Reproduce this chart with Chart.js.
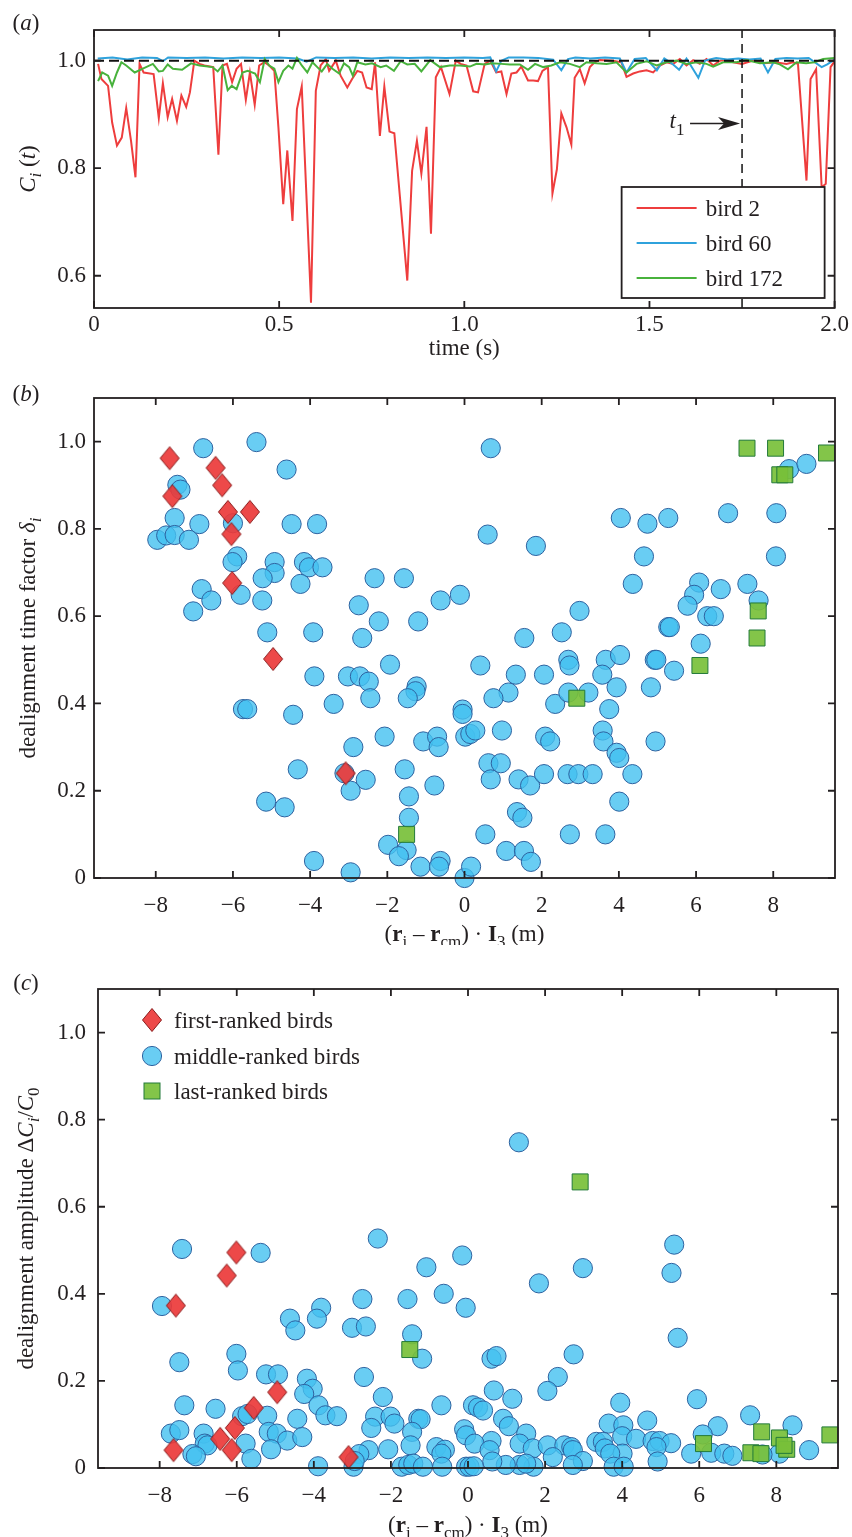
<!DOCTYPE html>
<html>
<head>
<meta charset="utf-8">
<script src="https://cdn.jsdelivr.net/npm/chart.js@4.4.1/dist/chart.umd.min.js"></script>
<style>
	html, body { margin: 0; padding: 0; background: #fff; }
	body { width: 852px; height: 1537px; position: relative; overflow: hidden; }
	canvas { position: absolute; left: 0; }
</style>
</head>
<body>
<canvas id="panel-a" width="852" height="365" style="top:0"></canvas>
<canvas id="panel-b" width="852" height="580" style="top:365px"></canvas>
<canvas id="panel-c" width="852" height="592" style="top:945px"></canvas>
<script>
// (a) C_i(t) time series
const timeTicks = [0, 0.5, 1, 1.5, 2];
const cTicks = [0.6, 0.8, 1.0];

const bird2Time = [
	0.011, 0.020, 0.038, 0.049, 0.062, 0.075, 0.087, 0.100, 0.112, 0.123,
	0.134, 0.161, 0.175, 0.186, 0.199, 0.211, 0.224, 0.236, 0.249, 0.259,
	0.271, 0.285, 0.298, 0.322, 0.336, 0.347, 0.359, 0.373, 0.385, 0.397,
	0.410, 0.421, 0.434, 0.446, 0.460, 0.473, 0.487, 0.498, 0.511, 0.522,
	0.536, 0.548, 0.561, 0.586, 0.599, 0.612, 0.626, 0.635, 0.653, 0.666,
	0.684, 0.697, 0.711, 0.724, 0.736, 0.750, 0.759, 0.772, 0.784, 0.798,
	0.811, 0.846, 0.859, 0.872, 0.884, 0.898, 0.910, 0.923, 0.937, 0.960,
	0.977, 0.990, 1.006, 1.024, 1.037, 1.055, 1.070, 1.086, 1.100, 1.114,
	1.127, 1.141, 1.154, 1.172, 1.186, 1.199, 1.211, 1.226, 1.238, 1.250,
	1.262, 1.276, 1.289, 1.298, 1.312, 1.325, 1.339, 1.352, 1.366, 1.402,
	1.424, 1.438, 1.456, 1.474, 1.492, 1.510, 1.528, 1.546, 1.564, 1.582,
	1.600, 1.618, 1.636, 1.654, 1.672, 1.690, 1.708, 1.726, 1.750, 1.780,
	1.810, 1.840, 1.870, 1.887, 1.901, 1.924, 1.935, 1.950, 1.965, 1.976,
	1.989, 2.000,
];
const bird2C = [
	0.994, 0.966, 0.953, 0.885, 0.842, 0.857, 0.912, 0.851, 0.783, 0.994,
	0.978, 0.975, 0.893, 0.958, 0.895, 0.929, 0.888, 0.935, 0.914, 0.941,
	1.000, 0.994, 0.991, 0.988, 0.825, 0.991, 0.994, 0.960, 0.985, 0.994,
	0.927, 0.978, 0.918, 0.991, 0.997, 0.991, 0.981, 0.876, 0.733, 0.833,
	0.702, 0.910, 0.952, 0.550, 0.944, 0.991, 1.003, 0.981, 1.000, 0.972,
	0.950, 0.966, 0.981, 0.978, 0.950, 0.947, 0.997, 0.860, 0.952, 0.868,
	0.865, 0.591, 0.795, 0.851, 0.790, 0.877, 0.678, 0.969, 0.988, 0.938,
	1.000, 0.994, 0.991, 0.943, 0.941, 0.994, 1.000, 0.978, 0.980, 0.938,
	0.976, 0.978, 0.989, 0.963, 0.963, 0.962, 0.981, 0.988, 0.753, 0.798,
	0.902, 0.876, 0.844, 0.968, 0.984, 0.958, 0.988, 0.997, 1.001, 1.000,
	0.997, 0.970, 0.976, 0.980, 0.982, 0.978, 0.991, 0.997, 0.994, 1.003,
	0.991, 1.001, 0.994, 1.003, 0.991, 1.000, 1.001, 0.997, 0.994, 1.000,
	0.995, 0.997, 0.994, 0.997, 0.994, 0.777, 0.966, 0.984, 0.764, 0.771,
	0.988, 0.999,
];

const bird60Time = [
	0.01, 0.05, 0.09, 0.13, 0.17, 0.186, 0.2, 0.25, 0.3, 0.35,
	0.4, 0.45, 0.5, 0.55, 0.574, 0.6, 0.65, 0.7, 0.75, 0.8,
	0.85, 0.9, 0.95, 1.0, 1.05, 1.07, 1.086, 1.1, 1.12, 1.16,
	1.2, 1.24, 1.262, 1.28, 1.3, 1.34, 1.38, 1.42, 1.438, 1.46,
	1.49, 1.52, 1.54, 1.56, 1.58, 1.6, 1.632, 1.65, 1.68, 1.71,
	1.74, 1.77, 1.8, 1.82, 1.84, 1.87, 1.9, 1.93, 1.965, 1.98,
	2.0,
];
const bird60C = [
	1.004, 1.006, 1.002, 1.006, 1.005, 0.999, 1.006, 1.005, 1.006, 1.004,
	1.006, 1.005, 1.006, 1.004, 0.998, 1.006, 1.005, 1.006, 1.004, 1.006,
	1.005, 1.006, 1.005, 1.006, 1.005, 1.006, 0.980, 1.000, 1.006, 1.006,
	1.005, 1.002, 0.982, 1.003, 1.006, 1.004, 1.006, 1.004, 0.978, 1.003,
	1.005, 0.982, 1.004, 0.995, 0.983, 1.004, 0.968, 1.000, 1.005, 1.002,
	1.004, 1.002, 1.004, 0.978, 1.003, 1.005, 1.004, 1.005, 0.988, 0.993,
	1.002,
];

const bird172Time = [
	0.011, 0.022, 0.038, 0.049, 0.062, 0.074, 0.087, 0.110, 0.132, 0.159,
	0.175, 0.186, 0.199, 0.213, 0.238, 0.262, 0.285, 0.320, 0.334, 0.347,
	0.361, 0.372, 0.385, 0.401, 0.415, 0.435, 0.448, 0.461, 0.473, 0.487,
	0.498, 0.511, 0.525, 0.536, 0.548, 0.561, 0.576, 0.590, 0.603, 0.615,
	0.630, 0.644, 0.662, 0.675, 0.689, 0.699, 0.711, 0.733, 0.751, 0.774,
	0.789, 0.810, 0.828, 0.846, 0.866, 0.884, 0.908, 0.934, 0.961, 0.988,
	1.015, 1.033, 1.056, 1.074, 1.100, 1.123, 1.150, 1.172, 1.191, 1.213,
	1.235, 1.258, 1.285, 1.312, 1.330, 1.357, 1.384, 1.411, 1.438, 1.465,
	1.492, 1.519, 1.546, 1.573, 1.600, 1.627, 1.654, 1.672, 1.699, 1.735,
	1.762, 1.798, 1.834, 1.852, 1.874, 1.897, 1.923, 1.946, 1.969, 2.000,
];
const bird172C = [
	0.962, 0.978, 0.972, 0.953, 0.978, 0.997, 0.991, 0.978, 0.985, 0.994,
	0.980, 0.981, 0.993, 0.985, 0.983, 0.995, 0.991, 0.988, 0.980, 0.991,
	0.945, 0.953, 0.947, 0.978, 0.981, 0.976, 0.960, 1.003, 0.991, 0.985,
	0.960, 0.981, 0.991, 0.985, 1.005, 0.991, 0.978, 0.997, 0.988, 0.980,
	0.994, 0.985, 0.976, 0.995, 0.988, 0.972, 0.997, 0.993, 0.995, 0.988,
	0.991, 0.981, 0.999, 0.993, 0.994, 0.980, 1.001, 0.988, 0.991, 0.991,
	0.989, 0.994, 0.993, 0.995, 0.994, 0.993, 0.993, 0.983, 0.994, 0.988,
	0.991, 0.997, 0.994, 0.988, 0.997, 0.995, 0.994, 0.997, 0.978, 0.994,
	0.999, 0.991, 0.997, 1.000, 0.994, 0.997, 0.994, 0.989, 0.997, 0.997,
	1.001, 0.995, 0.997, 0.993, 0.984, 0.997, 0.995, 0.997, 1.003, 1.005,
];

const refLineTime = [0, 2];
const refLineC = [1.0, 1.0];
const t1Time = [1.75, 1.75];
const t1LineC = [0.54, 1.06];
const t1ArrowC = 0.883;

// (b) and (c) shared axes
const posTicks = [-8, -6, -4, -2, 0, 2, 4, 6, 8];
const factorTicks = [0, 0.2, 0.4, 0.6, 0.8, 1.0];

// (b) dealignment time factor
const firstXb = [-7.64, -7.57, -6.45, -6.28, -6.13, -5.56, -6.04, -6.02, -4.96, -3.08];
const firstYb = [0.962, 0.875, 0.940, 0.900, 0.839, 0.839, 0.788, 0.676, 0.502, 0.240];
const lastXb = [-1.50, 2.91, 6.10, 7.58, 7.61, 7.32, 8.06, 9.38, 8.17, 8.30];
const lastYb = [0.100, 0.412, 0.487, 0.550, 0.612, 0.985, 0.985, 0.974, 0.924, 0.924];
const middleXb = [
	-6.77, -5.39, -4.61, -7.44, -7.36, -7.51, -7.96, -7.73, -7.51, -7.14,
	-6.87, -6.00, -4.48, -3.82, -5.89, -6.01, -4.92, -4.92, -5.23, -4.16,
	-4.03, -3.68, -4.25, -2.33, -1.57, -2.74, -2.22, -1.20, -2.65, -0.62,
	-0.12, -6.81, -6.56, -5.80, -5.24, -7.03, -5.11, -3.92, -1.93, -3.89,
	-3.02, -2.71, -2.48, -2.44, -3.39, -5.74, -5.63, -4.44, -1.24, -1.27,
	-1.47, -2.07, -2.88, -1.07, -0.71, -0.67, -0.05, -0.05, -4.32, -3.11,
	-2.56, -2.95, -1.55, -0.78, -1.44, -1.44, -5.14, -4.66, -1.98, -1.50,
	-1.70, -1.14, -0.62, -0.66, -3.90, -2.95, 0.00, 0.68, 0.60, 1.85,
	4.05, 4.74, 5.28, 6.83, 8.08, 8.41, 8.86, 4.65, 8.07, 4.36,
	6.08, 5.95, 5.78, 6.64, 7.33, 7.62, 2.98, 6.29, 6.46, 5.28,
	5.32, 1.55, 2.52, 6.12, 0.41, 2.69, 2.72, 3.66, 4.03, 4.93,
	4.97, 5.43, 1.33, 2.06, 3.57, 1.14, 0.75, 2.35, 2.69, 3.21,
	3.94, 4.83, 3.75, 0.97, 0.02, 0.15, 0.28, 2.09, 2.22, 3.58,
	3.60, 3.94, 4.01, 4.35, 4.95, 0.62, 0.94, 0.68, 1.40, 1.70,
	2.06, 2.67, 2.95, 3.32, 4.01, 1.36, 1.50, 0.54, 2.73, 3.65,
	1.08, 1.54, 1.72, 0.17,
];
const middleYb = [
	0.985, 0.999, 0.936, 0.901, 0.890, 0.825, 0.775, 0.785, 0.786, 0.775,
	0.811, 0.813, 0.811, 0.811, 0.737, 0.724, 0.724, 0.699, 0.687, 0.724,
	0.712, 0.712, 0.674, 0.687, 0.687, 0.625, 0.588, 0.588, 0.550, 0.636,
	0.649, 0.662, 0.636, 0.649, 0.636, 0.611, 0.563, 0.563, 0.489, 0.462,
	0.462, 0.462, 0.450, 0.412, 0.399, 0.387, 0.387, 0.374, 0.439, 0.428,
	0.412, 0.324, 0.300, 0.313, 0.324, 0.300, 0.386, 0.376, 0.249, 0.240,
	0.225, 0.200, 0.249, 0.212, 0.187, 0.138, 0.175, 0.162, 0.076, 0.064,
	0.050, 0.026, 0.039, 0.026, 0.039, 0.013, 0.000, 0.985, 0.787, 0.761,
	0.825, 0.812, 0.825, 0.836, 0.836, 0.937, 0.949, 0.737, 0.737, 0.674,
	0.677, 0.649, 0.624, 0.662, 0.674, 0.636, 0.612, 0.600, 0.600, 0.575,
	0.575, 0.550, 0.563, 0.537, 0.487, 0.500, 0.487, 0.500, 0.511, 0.500,
	0.500, 0.475, 0.466, 0.466, 0.466, 0.425, 0.412, 0.399, 0.425, 0.425,
	0.437, 0.437, 0.387, 0.338, 0.324, 0.330, 0.338, 0.324, 0.313, 0.338,
	0.313, 0.287, 0.275, 0.238, 0.313, 0.263, 0.263, 0.226, 0.226, 0.212,
	0.238, 0.238, 0.238, 0.238, 0.175, 0.151, 0.138, 0.100, 0.100, 0.100,
	0.062, 0.062, 0.037, 0.026,
];

// (c) dealignment amplitude
const firstXc = [-6.01, -6.26, -7.58, -4.95, -5.56, -6.05, -6.43, -6.13, -7.64, -3.10];
const firstYc = [0.495, 0.442, 0.373, 0.174, 0.138, 0.092, 0.067, 0.041, 0.041, 0.025];
const lastXc = [-1.51, 2.91, 6.11, 7.62, 8.08, 8.27, 8.20, 7.34, 7.60, 9.39];
const lastYc = [0.272, 0.657, 0.056, 0.083, 0.069, 0.043, 0.052, 0.035, 0.033, 0.076];
const middleXc = [
	-7.42, -5.38, -2.34, -1.08, -0.15, -7.94, -2.74, -1.57, -0.63, -0.06,
	-3.81, -3.92, -4.62, -4.48, -3.01, -2.65, -1.45, -1.19, -7.49, -6.01,
	-5.97, -5.24, -4.93, -4.18, -4.03, -4.25, -2.70, -2.21, -7.36, -6.55,
	-0.69, -3.88, -3.70, -3.40, -4.43, -5.86, -5.72, -5.21, -2.41, -2.01,
	-1.91, -1.29, -1.23, -2.51, -1.45, -0.10, -0.05, -7.71, -7.49, -6.86,
	-6.83, -6.76, -5.17, -4.96, -4.69, -4.30, -5.77, -5.11, -2.58, -2.07,
	-1.49, -0.82, -0.60, -0.69, -2.82, -7.15, -7.06, -5.62, -3.89, -2.97,
	-2.94, -1.72, -1.55, -1.42, -1.17, -0.67, -0.05,
	1.32, 5.35, 2.98, 5.28, 1.84, 5.44, 0.61, 0.74, 2.74, 2.33,
	2.06, 0.67, 1.15, 3.95, 5.94, 0.13, 0.26, 0.39, 0.91, 1.06,
	3.65, 4.03, 4.65, 7.32, 6.48, 8.42, 6.09, 1.51, 4.00, 4.36,
	3.33, 3.50, 4.79, 4.97, 5.27, 0.61, 0.17, 1.34, 1.68, 2.07,
	2.50, 2.68, 2.72, 3.55, 4.01, 4.89, 0.56, 5.79, 6.31, 6.65,
	6.86, 8.85, 8.08, 7.64, 4.92, 2.20, 2.98, 3.69, 3.78, 4.04,
	2.72, 1.70, 1.34, 1.51, 0.98, 0.63, 0.04, 0.15,
];
const middleYc = [
	0.503, 0.494, 0.527, 0.461, 0.488, 0.372, 0.388, 0.388, 0.400, 0.368,
	0.368, 0.343, 0.343, 0.316, 0.322, 0.325, 0.307, 0.251, 0.243, 0.262,
	0.224, 0.215, 0.215, 0.205, 0.182, 0.170, 0.209, 0.163, 0.144, 0.136,
	0.144, 0.144, 0.121, 0.119, 0.113, 0.119, 0.124, 0.120, 0.118, 0.118,
	0.102, 0.113, 0.112, 0.092, 0.083, 0.089, 0.075, 0.079, 0.087, 0.079,
	0.056, 0.052, 0.083, 0.079, 0.063, 0.071, 0.056, 0.043, 0.041, 0.043,
	0.052, 0.048, 0.042, 0.033, 0.032, 0.032, 0.027, 0.021, 0.004, 0.003,
	0.016, 0.003, 0.007, 0.010, 0.003, 0.003, 0.003,
	0.748, 0.513, 0.459, 0.448, 0.424, 0.299, 0.251, 0.257, 0.261, 0.209,
	0.177, 0.178, 0.159, 0.150, 0.158, 0.144, 0.139, 0.132, 0.113, 0.096,
	0.102, 0.098, 0.109, 0.121, 0.096, 0.098, 0.077, 0.079, 0.073, 0.067,
	0.060, 0.060, 0.062, 0.062, 0.057, 0.062, 0.056, 0.056, 0.045, 0.052,
	0.052, 0.048, 0.041, 0.045, 0.033, 0.048, 0.041, 0.033, 0.035, 0.033,
	0.028, 0.041, 0.033, 0.031, 0.015, 0.025, 0.016, 0.033, 0.003, 0.003,
	0.007, 0.003, 0.007, 0.010, 0.007, 0.015, 0.003, 0.004,
];

const INK = '#231f20';
const SERIF = '"Liberation Serif", "Times New Roman", serif';
const FONT_PX = 23;
const TICK_LEN = 7;

const RED_LINE = '#ee3d3d';
const BLUE_LINE = '#2fa2dc';
const GREEN_LINE = '#48b23c';
const RED_FILL = 'rgba(236, 58, 58, 0.92)';
const RED_EDGE = '#8a1c1c';
const BLUE_FILL = 'rgba(68, 192, 240, 0.8)';
const BLUE_EDGE = '#2d62a0';
const GREEN_FILL = 'rgba(120, 192, 58, 0.92)';
const GREEN_EDGE = '#237a3a';

const pts = (xs, ys) => xs.map((x, i) => ({x, y: ys[i]}));
const T = (t, f = '') => ({t, i: f.includes('i'), b: f.includes('b'), s: f.includes('s')});

const fmt = (digits) => (v) => {
	if (v === 0) return '0';
	return (v < 0 ? '\u2212' : '') + Math.abs(v).toFixed(digits);
};

// draw mixed italic / bold / subscript text, centred on (x, y) unless align is 'left'
function richText(ctx, parts, x, y, size, {rotate = false, align = 'center'} = {}) {
	ctx.save();
	ctx.translate(x, y);
	if (rotate) ctx.rotate(-Math.PI / 2);
	ctx.fillStyle = INK;
	ctx.textBaseline = 'alphabetic';
	ctx.textAlign = 'left';
	const fontFor = (p) => `${p.i ? 'italic ' : ''}${p.b ? 'bold ' : ''}${p.s ? Math.round(size * 0.72) : size}px ${SERIF}`;
	let width = 0;
	for (const p of parts) {
		ctx.font = fontFor(p);
		width += ctx.measureText(p.t).width;
	}
	let cx = align === 'left' ? 0 : -width / 2;
	const base = size * 0.33;
	for (const p of parts) {
		ctx.font = fontFor(p);
		ctx.fillText(p.t, cx, base + (p.s ? size * 0.3 : 0));
		cx += ctx.measureText(p.t).width;
	}
	ctx.restore();
}

function diamondImage() {
	const c = document.createElement('canvas');
	c.width = 22;
	c.height = 26;
	const g = c.getContext('2d');
	g.beginPath();
	g.moveTo(11, 1.5);
	g.lineTo(20.5, 13);
	g.lineTo(11, 24.5);
	g.lineTo(1.5, 13);
	g.closePath();
	g.fillStyle = RED_FILL;
	g.fill();
	g.strokeStyle = RED_EDGE;
	g.lineWidth = 1;
	g.stroke();
	return c;
}
const DIAMOND = diamondImage();

// MATLAB-like box with inward ticks on all four sides
const boxTicks = {
	id: 'boxTicks',
	afterDatasetsDraw(chart) {
		const {ctx, chartArea: a, scales: {x, y}} = chart;
		ctx.save();
		ctx.strokeStyle = INK;
		ctx.lineWidth = 1.8;
		ctx.beginPath();
		for (const t of x.ticks) {
			const px = x.getPixelForValue(t.value);
			ctx.moveTo(px, a.bottom);
			ctx.lineTo(px, a.bottom - TICK_LEN);
			ctx.moveTo(px, a.top);
			ctx.lineTo(px, a.top + TICK_LEN);
		}
		for (const t of y.ticks) {
			const py = y.getPixelForValue(t.value);
			ctx.moveTo(a.left, py);
			ctx.lineTo(a.left + TICK_LEN, py);
			ctx.moveTo(a.right, py);
			ctx.lineTo(a.right - TICK_LEN, py);
		}
		ctx.stroke();
		ctx.strokeRect(a.left, a.top, a.right - a.left, a.bottom - a.top);
		ctx.restore();
	},
};

function titles(label, labelY, xParts, xOffset, yParts, yX) {
	return {
		id: 'titles',
		afterDraw(chart) {
			const {ctx, chartArea: a} = chart;
			richText(ctx, label, 26, labelY, FONT_PX);
			richText(ctx, xParts, (a.left + a.right) / 2, a.bottom + xOffset, FONT_PX);
			richText(ctx, yParts, yX, (a.top + a.bottom) / 2, FONT_PX, {rotate: true});
		},
	};
}

function axis(min, max, ticks, digits, fit, padding) {
	return {
		type: 'linear',
		min,
		max,
		afterBuildTicks: (s) => { s.ticks = ticks.map((value) => ({value})); },
		afterFit: fit,
		grid: {display: false, drawTicks: false},
		border: {display: false},
		ticks: {
			font: {family: SERIF, size: FONT_PX},
			color: INK,
			padding,
			autoSkip: false,
			maxRotation: 0,
			callback: fmt(digits),
		},
	};
}

const common = {
	responsive: false,
	animation: false,
	events: [],
	plugins: {legend: {display: false}, tooltip: {enabled: false}},
};

// ---------- (a) ----------
const legendA = {
	id: 'legendA',
	afterDraw(chart) {
		const {ctx, chartArea: a, scales: {x, y}} = chart;
		const left = a.right - 213, top = a.bottom - 121;
		ctx.save();
		ctx.fillStyle = '#fff';
		ctx.fillRect(left, top, 203, 111);
		ctx.strokeStyle = INK;
		ctx.lineWidth = 1.8;
		ctx.strokeRect(left, top, 203, 111);
		const rows = [['bird 2', RED_LINE], ['bird 60', BLUE_LINE], ['bird 172', GREEN_LINE]];
		rows.forEach(([name, color], i) => {
			const ry = top + 21 + i * 35;
			ctx.strokeStyle = color;
			ctx.lineWidth = 2;
			ctx.beginPath();
			ctx.moveTo(left + 15, ry);
			ctx.lineTo(left + 75, ry);
			ctx.stroke();
			richText(ctx, [T(name)], left + 84, ry, FONT_PX, {align: 'left'});
		});

		// t1 arrow
		const tipX = x.getPixelForValue(t1Time[0]) - 2;
		const tipY = y.getPixelForValue(t1ArrowC);
		ctx.strokeStyle = INK;
		ctx.fillStyle = INK;
		ctx.lineWidth = 1.4;
		ctx.beginPath();
		ctx.moveTo(tipX - 50, tipY);
		ctx.lineTo(tipX - 15, tipY);
		ctx.stroke();
		ctx.beginPath();
		ctx.moveTo(tipX, tipY);
		ctx.lineTo(tipX - 22, tipY - 6.5);
		ctx.lineTo(tipX - 16, tipY);
		ctx.lineTo(tipX - 22, tipY + 6.5);
		ctx.closePath();
		ctx.fill();
		richText(ctx, [T('t', 'i'), T('1', 's')], tipX - 63, tipY - 3, FONT_PX);
		ctx.restore();
	},
};

const lineSet = (label, xs, ys, color, extra = {}) => ({
	label,
	data: pts(xs, ys),
	showLine: true,
	borderColor: color,
	backgroundColor: color,
	borderWidth: 2,
	pointRadius: 0,
	tension: 0,
	...extra,
});

new Chart(document.querySelector('#panel-a'), {
	type: 'scatter',
	data: {
		datasets: [
			lineSet('reference', refLineTime, refLineC, '#111', {borderDash: [10, 5], order: 0}),
			lineSet('t1', t1Time, t1LineC, '#111', {borderDash: [9, 6], borderWidth: 1.5, order: 0}),
			lineSet('bird 172', bird172Time, bird172C, GREEN_LINE, {order: 1}),
			lineSet('bird 60', bird60Time, bird60C, BLUE_LINE, {order: 2}),
			lineSet('bird 2', bird2Time, bird2C, RED_LINE, {order: 3}),
		],
	},
	options: {
		...common,
		layout: {padding: {top: 30, right: 17, bottom: 0, left: 0}},
		scales: {
			x: axis(0, 2, timeTicks, 1, (s) => { s.height = 57; }, 3),
			y: axis(0.54, 1.057, cTicks, 1, (s) => { s.width = 94; }, 8),
		},
	},
	plugins: [
		boxTicks,
		legendA,
		titles([T('('), T('a', 'i'), T(')')], 22, [T('time (s)')], 39,
			[T('C', 'i'), T('i', 'is'), T(' ('), T('t', 'i'), T(')')], 27),
	],
});

// ---------- (b) and (c) ----------
const posTitle = [T('('), T('r', 'b'), T('i', 's'), T(' \u2013 '), T('r', 'b'), T('cm', 's'), T(')'),
	T(' \u00b7 '), T('I', 'b'), T('3', 's'), T(' (m)')];

const rankSets = (fx, fy, mx, my, lx, ly) => [
	{
		label: 'first-ranked birds', data: pts(fx, fy), pointStyle: DIAMOND, pointRadius: 11,
		clip: false, order: 0,
	},
	{
		label: 'last-ranked birds', data: pts(lx, ly), pointStyle: 'rect', pointRadius: 11.3,
		backgroundColor: GREEN_FILL, borderColor: GREEN_EDGE, borderWidth: 1, clip: false, order: 1,
	},
	{
		label: 'middle-ranked birds', data: pts(mx, my), pointStyle: 'circle', pointRadius: 9.6,
		backgroundColor: BLUE_FILL, borderColor: BLUE_EDGE, borderWidth: 1, clip: false, order: 2,
	},
];

new Chart(document.querySelector('#panel-b'), {
	type: 'scatter',
	data: {datasets: rankSets(firstXb, firstYb, middleXb, middleYb, lastXb, lastYb)},
	options: {
		...common,
		layout: {padding: {top: 33, right: 17, bottom: 0, left: 0}},
		scales: {
			x: axis(-9.6, 9.6, posTicks, 0, (s) => { s.height = 67; }, 14),
			y: axis(0, 1.1, factorTicks, 1, (s) => { s.width = 94; }, 8),
		},
	},
	plugins: [
		boxTicks,
		titles([T('('), T('b', 'i'), T(')')], 28, posTitle, 55,
			[T('dealignment time factor '), T('\u03b4', 'i'), T('i', 'is')], 27),
	],
});

const legendC = {
	id: 'legendC',
	afterDraw(chart) {
		const {ctx, chartArea: a} = chart;
		const mx = a.left + 54;
		const rows = ['first-ranked birds', 'middle-ranked birds', 'last-ranked birds'];
		const ys = [a.top + 31, a.top + 67, a.top + 102];
		ctx.save();
		ctx.drawImage(DIAMOND, mx - 11, ys[0] - 13);
		ctx.beginPath();
		ctx.arc(mx, ys[1], 9.6, 0, Math.PI * 2);
		ctx.fillStyle = BLUE_FILL;
		ctx.fill();
		ctx.strokeStyle = BLUE_EDGE;
		ctx.lineWidth = 1;
		ctx.stroke();
		ctx.fillStyle = GREEN_FILL;
		ctx.fillRect(mx - 8, ys[2] - 8, 16, 16);
		ctx.strokeStyle = GREEN_EDGE;
		ctx.strokeRect(mx - 8, ys[2] - 8, 16, 16);
		ctx.restore();
		rows.forEach((name, i) => richText(ctx, [T(name)], a.left + 76, ys[i], FONT_PX, {align: 'left'}));
	},
};

new Chart(document.querySelector('#panel-c'), {
	type: 'scatter',
	data: {datasets: rankSets(firstXc, firstYc, middleXc, middleYc, lastXc, lastYc)},
	options: {
		...common,
		layout: {padding: {top: 44, right: 14, bottom: 0, left: 0}},
		scales: {
			x: axis(-9.6, 9.6, posTicks, 0, (s) => { s.height = 69; }, 14),
			y: axis(0, 1.1, factorTicks, 1, (s) => { s.width = 98; }, 12),
		},
	},
	plugins: [
		boxTicks,
		legendC,
		titles([T('('), T('c', 'i'), T(')')], 37, posTitle, 56,
			[T('dealignment amplitude \u0394'), T('C', 'i'), T('i', 'is'), T('/'), T('C', 'i'), T('0', 's')], 25),
	],
});
</script>
</body>
</html>
